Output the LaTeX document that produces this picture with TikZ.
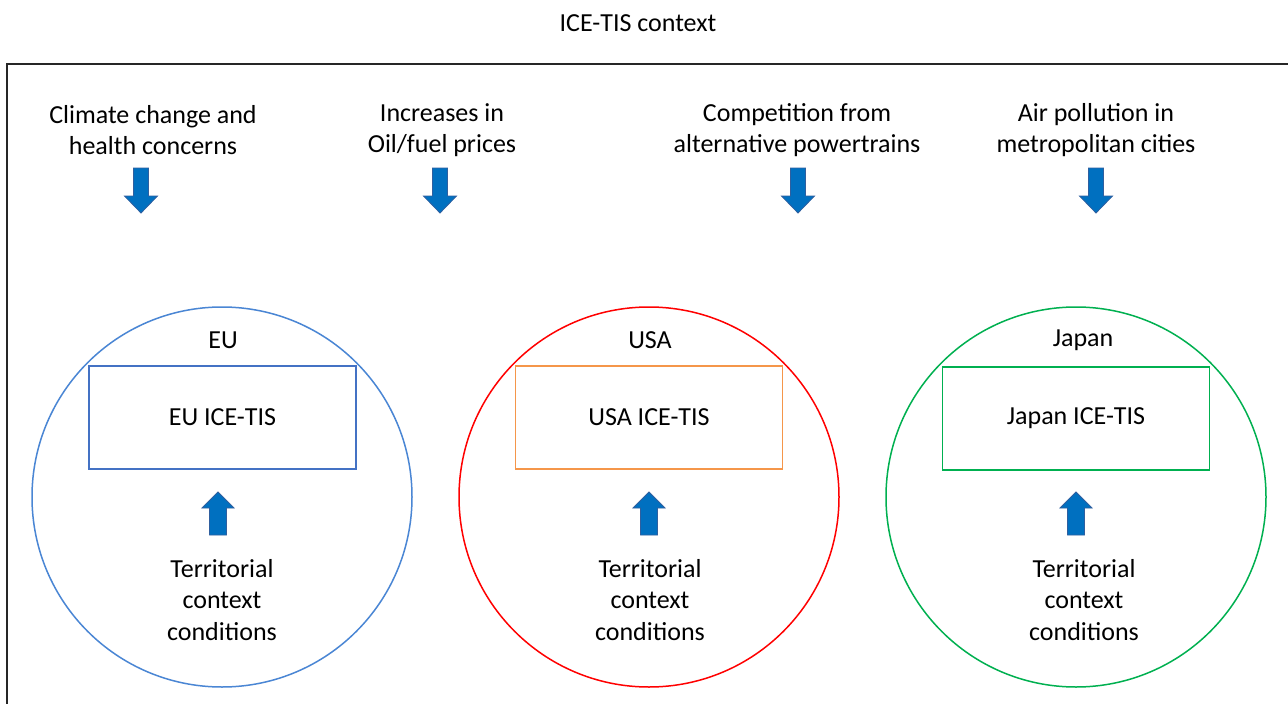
\documentclass[tikz,border=0pt]{standalone}
\usepackage{fontspec}
\setmainfont{Carlito}
\definecolor{arrfill}{HTML}{0070C0}
\definecolor{arrline}{HTML}{2F5F9F}
\definecolor{eublue}{HTML}{4A86D4}
\definecolor{eurect}{HTML}{4472C4}
\definecolor{usred}{HTML}{FF0000}
\definecolor{usorange}{HTML}{F5964A}
\definecolor{jpgreen}{HTML}{00B050}
\tikzset{
  txt/.style={font=\fontsize{26}{31.5}\selectfont, align=center, inner sep=0pt},
  region/.style={circle, draw, line width=1.5pt, minimum size=380pt, inner sep=0pt},
  tisbox/.style={rectangle, draw, line width=1.3pt, minimum width=267pt, minimum height=103pt, inner sep=0pt, font=\fontsize{26}{31.5}\selectfont},
  blk/.style={fill=arrfill, draw=arrline, line width=0.8pt},
  downarr/.pic={\path[blk] (-7.5,0) -- (7.5,0) -- (7.5,28) -- (16.5,28) -- (0,45) -- (-16.5,28) -- (-7.5,28) -- cycle;},
  uparr/.pic={\path[blk] (-8.5,0) -- (8.5,0) -- (8.5,-27) -- (16,-27) -- (0,-43) -- (-16,-27) -- (-8.5,-27) -- cycle;}
}
\begin{document}
\begin{tikzpicture}[x=1pt,y=-1pt]
\useasboundingbox (0,0) rectangle (1288,704);
\clip (0,0) rectangle (1288,704);
\fill[white] (0,0) rectangle (1288,704);
\draw[line width=1.5pt, black!85] (7,64) rectangle (1310,730);
\node[txt] (title) at (638,23) {ICE-TIS context};
% top drivers
\node[txt] (d1) at (153,130) {Climate change and\\health concerns};
\node[txt] (d2) at (442,130) {Increases in\\Oil/fuel prices};
\node[txt] (d3) at (797,130) {Competition from\\alternative powertrains};
\node[txt] (d4) at (1096,130) {Air pollution in\\metropolitan cities};
\pic at (141,168) {downarr};
\pic at (440,168) {downarr};
\pic at (798,168) {downarr};
\pic at (1096,168) {downarr};
% regions
\node[region, draw=eublue] (eu) at (222,497) {};
\node[region, draw=usred] (usa) at (649,497) {};
\node[region, draw=jpgreen] (jp) at (1076,497) {};
\node[txt] (eul) at (223,340) {EU};
\node[txt] (usal) at (650,340) {USA};
\node[txt] (jpl) at (1083,340) {Japan};
\node[tisbox, draw=eurect] (eutis) at (222.5,417.5) {EU ICE-TIS};
\node[tisbox, draw=usorange] (ustis) at (649,417.5) {USA ICE-TIS};
\node[tisbox, draw=jpgreen] (jptis) at (1076,418.5) {Japan ICE-TIS};
\pic at (218,535) {uparr};
\pic at (649,535) {uparr};
\pic at (1076,535) {uparr};
\node[txt] (eut) at (222,600) {Territorial\\context\\conditions};
\node[txt] (ust) at (650,600) {Territorial\\context\\conditions};
\node[txt] (jpt) at (1084,600) {Territorial\\context\\conditions};
\end{tikzpicture}
\end{document}
